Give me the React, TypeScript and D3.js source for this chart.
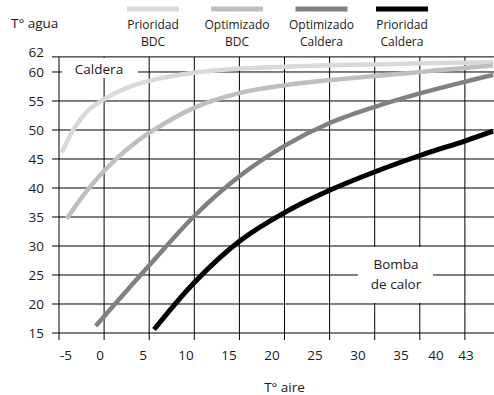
import React from "react";
import * as d3 from "d3";

const W = 494;
const H = 395;

// Legend / series
const legendLine1 = ["Prioridad", "Optimizado", "Optimizado", "Prioridad"];
const legendLine2 = ["BDC", "BDC", "Caldera", "Caldera"];
const seriesColors = ["#d9d9d9", "#bfbfbf", "#808080", "#000000"];

// Series values (x = T° aire, y = T° agua)
const prioridadBdcX = [-4.45, -2.91, -1.36, 0.47, 2.52, 5.81, 11.05, 16.28, 21.5, 26.7, 31.98, 37.2, 42.4, 45.7];
const prioridadBdcY = [46.1, 50.5, 53.4, 55.3, 56.9, 58.5, 59.9, 60.6, 60.9, 61.15, 61.3, 61.5, 61.6, 61.7];

const optimizadoBdcX = [-3.87, -1.74, 0.58, 3.26, 5.62, 11.05, 16.28, 21.5, 26.7, 31.98, 37.2, 42.4, 45.7];
const optimizadoBdcY = [34.7, 39.1, 43.1, 46.8, 49.4, 53.9, 56.4, 57.7, 58.6, 59.3, 60.0, 60.7, 61.1];

const optimizadoCalderaX = [-0.5, 5.81, 11.05, 16.28, 21.5, 26.7, 31.98, 37.2, 42.4, 45.7];
const optimizadoCalderaY = [16.2, 26.8, 35.3, 42.1, 47.3, 51.2, 54.0, 56.3, 58.3, 59.5];

const prioridadCalderaX = [6.28, 11.05, 16.28, 21.5, 26.7, 31.98, 37.2, 42.4, 45.7];
const prioridadCalderaY = [15.6, 23.85, 30.9, 35.8, 39.6, 42.8, 45.6, 48.1, 49.8];

const seriesX = [prioridadBdcX, optimizadoBdcX, optimizadoCalderaX, prioridadCalderaX];
const seriesY = [prioridadBdcY, optimizadoBdcY, optimizadoCalderaY, prioridadCalderaY];

// Axis tick labels
const yTicks = [15, 20, 25, 30, 35, 40, 45, 50, 55, 60];
const yTopLabel = "62";
const xTickLabels = ["-5", "0", "5", "10", "15", "20", "25", "30", "35", "40", "43"];
const xTickLabelAt = [-3.95, 0, 5, 10, 15, 20, 25, 30, 35, 39.07, 42.56];
const xGridStart = -4.77;
const xGridStep = 5.244;
const xGridCount = 10;

const FONT = "'Open Sans', sans-serif";

export default function App() {
  const plotLeft = 59;
  const plotRight = 494;
  const plotTop = 56.9;
  const plotBottom = 333;

  const x = d3.scaleLinear().domain([-4.77, 45.81]).range([plotLeft, plotRight]);
  const y = d3.scaleLinear().domain([15, 62.6]).range([plotBottom, plotTop]);

  const xGrid = d3.range(xGridCount).map((i) => xGridStart + i * xGridStep);

  const line = d3
    .line<[number, number]>()
    .x((d) => x(d[0]))
    .y((d) => y(d[1]))
    .curve(d3.curveCatmullRom.alpha(0.5));

  const gridColor = "#000";
  const textColor = "#1a1a1a";

  // legend geometry
  const legendCenters = [153, 237, 321.5, 402];
  const legendHalf = 26;

  return (
    <svg
      width={W}
      height={H}
      style={{ position: "absolute", left: 0, top: 0, background: "#fff" }}
      fontFamily={FONT}
    >
      <rect x={0} y={0} width={W} height={H} fill="#fff" />

      {/* horizontal gridlines */}
      {yTicks.map((t) => (
        <line key={"h" + t} x1={plotLeft - 7} x2={plotRight} y1={y(t)} y2={y(t)} stroke={gridColor} strokeWidth={1} />
      ))}
      <line x1={plotLeft - 7} x2={plotRight} y1={y(62.6)} y2={y(62.6)} stroke={gridColor} strokeWidth={1} />

      {/* vertical gridlines */}
      {xGrid.map((g, i) => (
        <line key={"v" + i} x1={x(g)} x2={x(g)} y1={plotTop} y2={plotBottom + 7} stroke={gridColor} strokeWidth={1} />
      ))}

      {/* label boxes */}
      <rect x={62} y={58} width={76} height={20} fill="#fff" />
      <text x={99} y={69} fontSize={13.5} textAnchor="middle" dy="0.35em" fill={textColor}>
        Caldera
      </text>
      <rect x={358} y={247} width={75} height={56} fill="#fff" />
      <text x={396} y={264} fontSize={13.5} textAnchor="middle" dy="0.35em" fill={textColor}>
        Bomba
      </text>
      <text x={396} y={284} fontSize={13.5} textAnchor="middle" dy="0.35em" fill={textColor}>
        de calor
      </text>

      {/* curves */}
      {seriesX.map((xs, si) => {
        const pts = xs.map((v, i) => [v, seriesY[si][i]] as [number, number]);
        return (
          <path
            key={"s" + si}
            d={line(pts) || ""}
            fill="none"
            stroke={seriesColors[si]}
            strokeWidth={si === 3 ? 5 : 4.5}
          />
        );
      })}

      {/* y tick labels */}
      {yTicks.map((t) => (
        <text key={"yl" + t} x={44} y={y(t)} dy="0.35em" fontSize={13.5} textAnchor="end" fill={textColor}>
          {t}
        </text>
      ))}
      <text x={44} y={y(62.6) - 5} dy="0.35em" fontSize={13.5} textAnchor="end" fill={textColor}>
        {yTopLabel}
      </text>

      {/* x tick labels */}
      {xTickLabels.map((lab, i) => (
        <text key={"xl" + i} x={x(xTickLabelAt[i])} y={355} dy="0.35em" fontSize={13.5} textAnchor="middle" fill={textColor}>
          {lab}
        </text>
      ))}

      {/* axis titles */}
      <text x={11} y={23} dy="0.35em" fontSize={13.5} fill={textColor}>
        T° agua
      </text>
      <text x={284.5} y={387} dy="0.35em" fontSize={13.5} textAnchor="middle" fill={textColor}>
        T° aire
      </text>

      {/* legend */}
      {legendCenters.map((c, i) => (
        <g key={"lg" + i}>
          <line x1={c - legendHalf} x2={c + legendHalf} y1={9} y2={9} stroke={seriesColors[i]} strokeWidth={5} />
          <text x={c} y={24.5} dy="0.35em" fontSize={12} textAnchor="middle" fill={textColor}>
            {legendLine1[i]}
          </text>
          <text x={c} y={41.5} dy="0.35em" fontSize={12} textAnchor="middle" fill={textColor}>
            {legendLine2[i]}
          </text>
        </g>
      ))}
    </svg>
  );
}
